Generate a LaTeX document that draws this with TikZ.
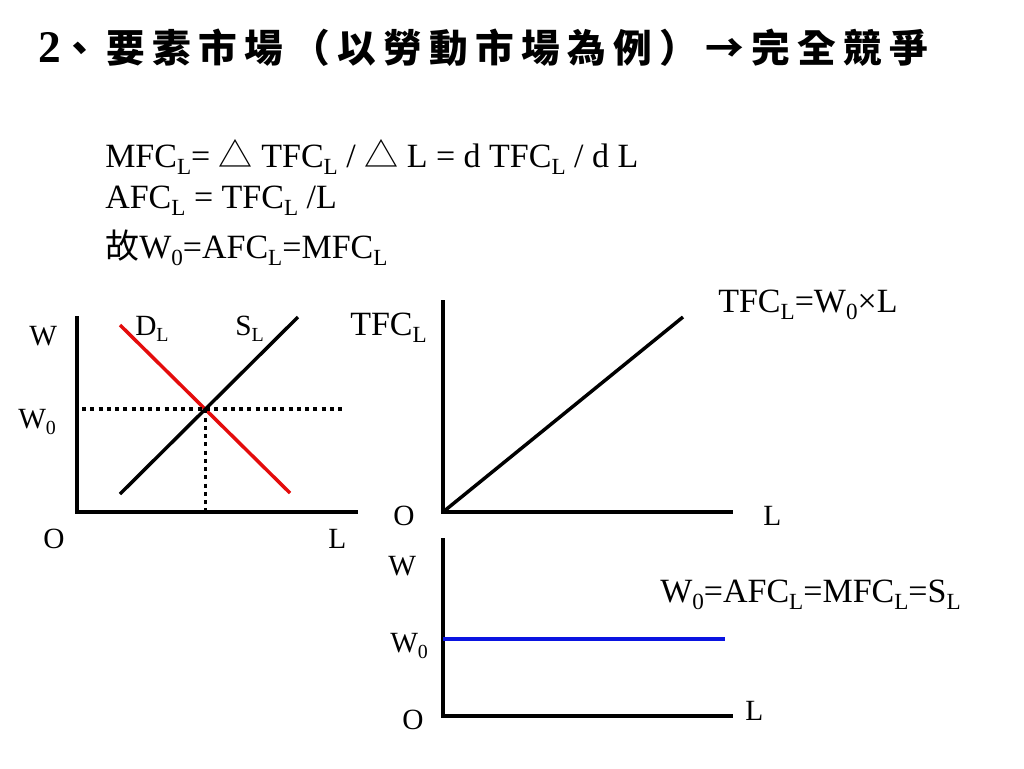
\documentclass[tikz,border=0pt]{standalone}
\usepackage{graphicx}
\usepackage{fontspec}
\setmainfont{Liberation Serif}
\newfontfamily\cjk{Noto Sans CJK TC}
\newfontfamily\cjktitle[LetterSpace=19]{Noto Sans CJK TC}
\newcommand{\sbs}[1]{\raisebox{-0.22em}{\scalebox{0.68}{#1}}}
\definecolor{dred}{RGB}{228,12,12}
\definecolor{dblue}{RGB}{10,20,225}
\tikzset{
  axis/.style={line width=3pt},
  curve/.style={line width=2.6pt},
  guide/.style={line width=2.6pt, dash pattern=on 3pt off 3.2pt},
  lbl/.style={inner sep=0pt, anchor=base west, font=\fontsize{22}{26}\selectfont},
  eq/.style={inner sep=0pt, anchor=base west, font=\fontsize{25.5}{30}\selectfont},
}
\begin{document}
\begin{tikzpicture}[x=0.75pt,y=0.75pt,yscale=-1,xscale=1]
    \path[use as bounding box, fill=white] (0,0) rectangle (1024,768);
    % Title
    \node[inner sep=0pt, anchor=base west] (title) at (38,62) {\bfseries{\fontsize{34}{36}\selectfont 2}{\fontsize{29}{36}\selectfont\cjktitle 、要素市場（以勞動市場為例）→完全競爭}};
    % Text Node
    \node[eq] (mfc) at (105,167) {MFC\sbs{L}= {\cjk △} TFC\sbs{L} / {\cjk △} L = d TFC\sbs{L} / d L};
    % Text Node
    \node[eq] (afc) at (105,208) {AFC\sbs{L} = TFC\sbs{L} /L};
    % Text Node
    \node[eq] (hence) at (105,258) {{\cjk 故}W\sbs{0}=AFC\sbs{L}=MFC\sbs{L}};
    % Left graph: labour market
    \coordinate (W1) at (77,316);
    \coordinate (O1) at (77,512);
    \coordinate (L1) at (358,512);
    \draw[axis] (W1) -- (O1) -- (L1);
    \coordinate (D1) at (120,325);
    \coordinate (D2) at (290,493);
    \coordinate (S1) at (120,494);
    \coordinate (S2) at (298,317);
    \draw[curve, dred] (D1) -- (D2);
    \draw[curve] (S1) -- (S2);
    \coordinate (E) at (intersection of D1--D2 and S1--S2);
    \coordinate (G1) at (82,409);
    \coordinate (G2) at (342,409);
    \draw[guide] (G1) -- (G2);
    \draw[guide] (E) -- (E |- O1);
    % Text Node
    \node[lbl] (wlab1) at (29,345) {W};
    \node[lbl] (w0lab1) at (18,428) {W\sbs{0}};
    \node[lbl] (dlab) at (135,335) {D\sbs{L}};
    \node[lbl] (slab) at (235,335) {S\sbs{L}};
    \node[lbl] (olab1) at (43,548) {O};
    \node[lbl] (llab1) at (328,548) {L};
    % Top right graph: total factor cost
    \coordinate (T2) at (443,300);
    \coordinate (O2) at (443,512);
    \coordinate (L2) at (733,512);
    \coordinate (F2) at (683,317);
    \draw[axis] (T2) -- (O2) -- (L2);
    \draw[curve] (O2) -- (F2);
    % Text Node
    \node[eq] (tfclab) at (350,335) {TFC\sbs{L}};
    \node[eq] (tfceq) at (718,312) {TFC\sbs{L}=W\sbs{0}×L};
    \node[lbl] (olab2) at (393,525) {O};
    \node[lbl] (llab2) at (763,525) {L};
    % Bottom right graph: factor cost per unit
    \coordinate (W3) at (443,538);
    \coordinate (O3) at (443,716);
    \coordinate (L3) at (733,716);
    \coordinate (B1) at (443,639);
    \coordinate (B2) at (725,639);
    \draw[axis] (W3) -- (O3) -- (L3);
    \draw[curve, dblue] (B1) -- (B2);
    % Text Node
    \node[lbl] (wlab3) at (388,575) {W};
    \node[lbl] (w0lab3) at (390,652) {W\sbs{0}};
    \node[lbl] (olab3) at (402,729) {O};
    \node[lbl] (llab3) at (745,720) {L};
    \node[eq] (w0eq) at (660,602) {W\sbs{0}=AFC\sbs{L}=MFC\sbs{L}=S\sbs{L}};
\end{tikzpicture}
\end{document}
